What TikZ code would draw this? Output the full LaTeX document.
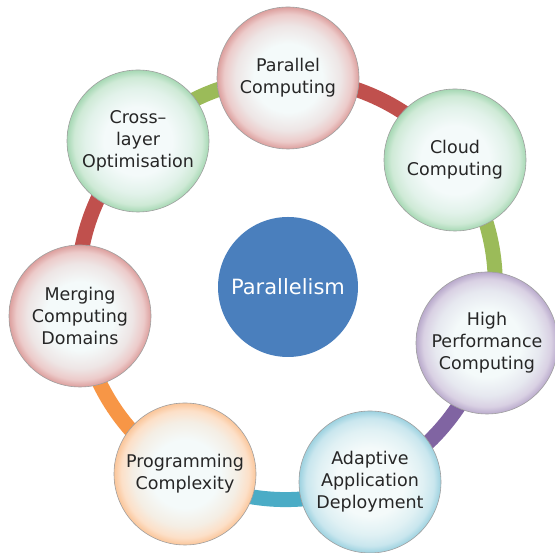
\documentclass[tikz,border=0pt]{standalone}
\usepackage{fontspec}
\setmainfont{DejaVu Sans}
\usetikzlibrary{backgrounds}
\definecolor{ringred}{HTML}{C0504D}
\definecolor{ringgreen}{HTML}{9BBB59}
\definecolor{ringpurple}{HTML}{8064A2}
\definecolor{ringaqua}{HTML}{4BACC6}
\definecolor{ringorange}{HTML}{F79646}
\definecolor{ballmint}{HTML}{5DB876}
\definecolor{hubblue}{HTML}{4A7FBD}
\definecolor{txtgray}{HTML}{262626}
\definecolor{ballcore}{HTML}{F4FAFA}
\newcommand\rimshading[2]{%
	\colorlet{#1mid}{#2!12!ballcore}%
	\colorlet{#1edge}{#2!30!white}%
	\colorlet{#1rim}{#2!55!white}%
	\pgfdeclareradialshading{#1ball}{\pgfpoint{0bp}{0bp}}{color(0bp)=(ballcore); color(12bp)=(ballcore); color(18.5bp)=(#1mid); color(22.5bp)=(#1edge); color(25bp)=(#1rim); color(50bp)=(#1rim)}}
\rimshading{red}{ringred}
\rimshading{green}{ballmint}
\rimshading{purple}{ringpurple}
\rimshading{aqua}{ringaqua}
\rimshading{orange}{ringorange}
\begin{document}
\begin{tikzpicture}[x=1pt,y=1pt,
	ball/.style={circle,draw=gray!75,line width=0.6pt,minimum size=142pt,inner sep=0pt,align=center,text=txtgray,font=\fontsize{17.5}{22}\selectfont,shading=#1ball},
	hub/.style={circle,fill=hubblue,minimum size=140pt,inner sep=0pt,text=white,font=\fontsize{21}{25}\selectfont},
	ring/.style={line width=15pt,looseness=0.9}]
	\useasboundingbox (0,0) rectangle (555,553);
	\node[hub] (par) at (288,266) {Parallelism};
	\node[ball=red] (pc) at (288,475) {Parallel\\Computing};
	\node[ball=green] (cc) at (455,393) {Cloud\\Computing};
	\node[ball=purple] (hp) at (487,210) {High\\Performance\\Computing};
	\node[ball=aqua] (ad) at (370,71) {Adaptive\\Application\\Deployment};
	\node[ball=orange] (pg) at (185,79) {Programming\\Complexity};
	\node[ball=red] (md) at (80,237) {Merging\\Computing\\Domains};
	\node[ball=green] (xl) at (138,412) {Cross--\\layer\\Optimisation};
	
	\begin{scope}[on background layer]
	\foreach \from/\to/\col/\bend in {pc/cc/ringred/26,cc/hp/ringgreen/26,hp/ad/ringpurple/25,ad/pg/ringaqua/26,pg/md/ringorange/27,md/xl/ringred/26,xl/pc/ringgreen/23}
		\draw[ring,draw=\col] (\from.center) to[bend left=\bend] (\to.center);
	\end{scope}
\end{tikzpicture}
\end{document}
